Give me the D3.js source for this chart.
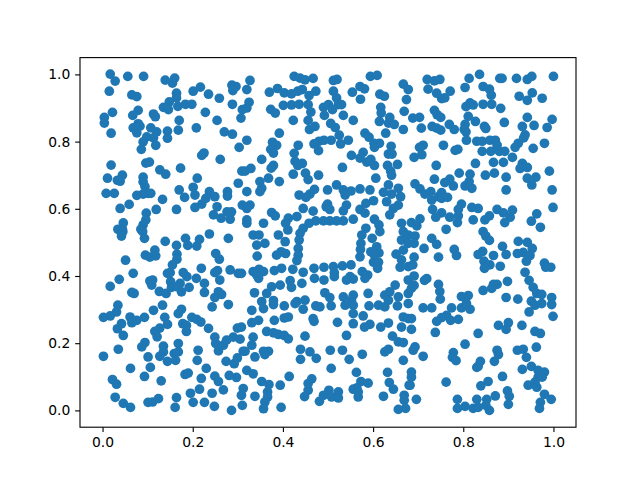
<!DOCTYPE html>
<html><head><meta charset="utf-8">
<script src="https://cdn.jsdelivr.net/npm/d3@7/dist/d3.min.js"></script>
<style>html,body{margin:0;padding:0;background:#fff}svg{display:block}</style>
</head><body><svg id="c" width="640" height="480"></svg>
<script>
const tickValues = [0, 0.2, 0.4, 0.6, 0.8, 1.0];
const topLeft = [[.017,1.001],[.028,.98],[.056,.994],[.091,.994],[.139,.983],[.16,.989],[.155,.974],[.015,.95],[.065,.939],[.076,.934],[.201,.95],[.217,.962],[.235,.941],[.259,.929],[.287,.968],[.296,.964],[.289,.952],[.164,.944],[.164,.93],[.148,.918],[.135,.902],[.146,.895],[.167,.905],[.184,.911],[.198,.911],[.288,.911],[.022,.887],[.079,.893],[.067,.878],[.113,.882],[.117,.874],[.228,.887],[.004,.872],[.004,.855],[.17,.863],[.254,.863],[.307,.87],[.31,.895],[.079,.853],[.068,.841],[.083,.846],[.076,.826],[.107,.841],[.12,.829],[.144,.831],[.168,.834],[.208,.841],[.019,.825],[.27,.829],[.288,.822],[.098,.814],[.09,.799],[.086,.777],[.113,.811],[.118,.789],[.144,.81],[.303,.783],[.225,.766],[.22,.759],[.261,.747],[.019,.73],[.096,.736],[.104,.739],[.127,.716],[.14,.703],[.173,.721],[.21,.691],[.011,.691],[.044,.7],[.033,.685],[.039,.682],[.09,.694],[.09,.68],[.309,.712]];
const topMiddle = [[.327,.982],[.32,.955],[.325,.917],[.32,.9],[.425,.994],[.438,.989],[.449,.984],[.467,.988],[.512,.982],[.52,.985],[.594,.994],[.609,.997],[.667,.971],[.678,.955],[.674,.925],[.37,.947],[.388,.958],[.403,.945],[.419,.942],[.433,.95],[.443,.955],[.473,.95],[.458,.937],[.512,.95],[.554,.947],[.571,.964],[.581,.957],[.615,.941],[.625,.935],[.572,.926],[.401,.908],[.419,.909],[.436,.911],[.456,.91],[.462,.888],[.49,.902],[.501,.91],[.519,.93],[.523,.91],[.51,.895],[.53,.91],[.492,.878],[.534,.878],[.373,.896],[.383,.885],[.423,.863],[.456,.863],[.556,.863],[.617,.902],[.618,.885],[.669,.89],[.614,.86],[.637,.872],[.634,.855],[.647,.851],[.667,.836],[.628,.825],[.506,.854],[.516,.842],[.459,.836],[.471,.845],[.525,.819],[.545,.804],[.528,.793],[.507,.804],[.491,.804],[.48,.801],[.469,.793],[.479,.773],[.392,.825],[.32,.804],[.377,.798],[.386,.789],[.373,.777],[.379,.766],[.434,.789],[.425,.765],[.353,.747],[.582,.825],[.591,.813],[.602,.795],[.614,.795],[.603,.783],[.64,.786],[.634,.763],[.642,.763],[.578,.768],[.552,.759],[.571,.751],[.595,.747],[.586,.739],[.603,.729],[.654,.732],[.632,.729],[.639,.712],[.641,.7],[.427,.741],[.443,.735],[.433,.729],[.379,.729],[.374,.721],[.329,.72],[.316,.712],[.532,.723],[.423,.703],[.45,.706],[.456,.687],[.479,.7],[.368,.691],[.606,.691]];
const topRight = [[.72,.985],[.736,.981],[.748,.985],[.722,.956],[.741,.944],[.752,.928],[.759,.93],[.771,.95],[.813,.988],[.836,1.0],[.804,.961],[.844,.964],[.858,.956],[.862,.938],[.863,.911],[.844,.911],[.881,.988],[.886,.988],[.918,.988],[.942,.985],[.952,.994],[1.0,.994],[.924,.935],[.953,.945],[.942,.923],[.975,.929],[.815,.915],[.806,.904],[.822,.909],[.883,.899],[.736,.893],[.742,.88],[.75,.872],[.688,.87],[.703,.872],[.707,.84],[.731,.845],[.741,.84],[.75,.834],[.769,.851],[.78,.836],[.811,.875],[.827,.86],[.804,.851],[.802,.836],[.806,.829],[.847,.845],[.85,.839],[.891,.857],[.942,.872],[.997,.866],[.957,.848],[.931,.845],[.986,.842],[.937,.82],[.934,.811],[.922,.795],[.915,.783],[.807,.804],[.83,.801],[.842,.801],[.842,.771],[.859,.804],[.871,.804],[.861,.771],[.88,.771],[.875,.789],[.892,.771],[.909,.753],[.98,.795],[.955,.78],[.756,.789],[.711,.789],[.703,.783],[.708,.761],[.691,.753],[.782,.774],[.788,.777],[.827,.735],[.867,.738],[.889,.738],[.931,.735],[.926,.72],[.942,.723],[.991,.712],[.74,.729],[.791,.706],[.815,.703],[.849,.7],[.869,.706],[.895,.694],[.942,.691],[.961,.694],[.736,.688],[.77,.688]];
const midLeft = [[.094,.666],[.101,.646],[.09,.644],[.076,.64],[.107,.646],[.008,.646],[.026,.646],[.059,.613],[.039,.601],[.133,.628],[.119,.598],[.164,.598],[.097,.587],[.096,.567],[.09,.552],[.085,.539],[.089,.532],[.046,.558],[.034,.539],[.044,.539],[.045,.532],[.042,.519],[.093,.512],[.17,.656],[.182,.634],[.201,.664],[.205,.641],[.205,.604],[.22,.614],[.237,.651],[.229,.631],[.249,.636],[.254,.606],[.246,.582],[.263,.572],[.283,.569],[.276,.591],[.286,.591],[.277,.651],[.277,.638],[.31,.611],[.301,.676],[.237,.525],[.279,.512],[.139,.503],[.184,.512],[.189,.491],[.209,.489],[.215,.509],[.164,.491],[.165,.465],[.165,.45],[.116,.477],[.095,.462],[.105,.456],[.118,.46],[.155,.433],[.15,.41],[.144,.408],[.051,.447],[.251,.467],[.259,.45],[.219,.423],[.255,.416],[.249,.41],[.283,.418],[.301,.408],[.308,.408],[.068,.408],[.037,.39],[.017,.369],[.105,.385],[.111,.388],[.109,.373],[.126,.354],[.141,.348],[.151,.383],[.153,.366],[.179,.41],[.187,.398],[.172,.378],[.192,.366],[.175,.353],[.165,.368],[.208,.393],[.226,.378],[.226,.351],[.26,.388],[.257,.353],[.264,.345],[.249,.336],[.065,.351],[.07,.348]];
const midMiddle = [[.349,.681],[.353,.661],[.349,.651],[.392,.681],[.32,.651],[.519,.671],[.534,.656],[.538,.641],[.551,.653],[.571,.659],[.593,.656],[.499,.656],[.47,.658],[.46,.644],[.436,.641],[.451,.634],[.634,.671],[.656,.661],[.623,.649],[.641,.644],[.661,.636],[.63,.621],[.656,.611],[.645,.601],[.637,.582],[.601,.624],[.584,.616],[.571,.598],[.582,.587],[.499,.614],[.496,.606],[.504,.598],[.541,.611],[.534,.594],[.327,.611],[.32,.601],[.445,.601],[.467,.593],[.375,.589],[.383,.579],[.431,.577],[.412,.572],[.406,.557],[.411,.537],[.32,.567],[.32,.557],[.357,.557],[.556,.569],[.534,.564],[.519,.564],[.504,.564],[.49,.564],[.473,.564],[.458,.557],[.445,.542],[.438,.527],[.436,.507],[.434,.482],[.434,.462],[.431,.446],[.603,.569],[.613,.552],[.615,.532],[.584,.542],[.575,.522],[.573,.497],[.572,.479],[.571,.457],[.551,.433],[.598,.512],[.595,.472],[.608,.487],[.613,.469],[.603,.462],[.39,.522],[.405,.502],[.396,.472],[.406,.467],[.386,.462],[.334,.522],[.347,.522],[.342,.492],[.36,.497],[.343,.459],[.663,.557],[.667,.532],[.678,.522],[.663,.507],[.678,.497],[.667,.477],[.651,.465],[.601,.441],[.612,.441],[.61,.423],[.663,.448],[.678,.428],[.66,.426],[.678,.388],[.469,.423],[.491,.426],[.512,.428],[.532,.43],[.47,.393],[.491,.388],[.514,.398],[.445,.411],[.422,.42],[.397,.423],[.381,.416],[.347,.42],[.334,.413],[.357,.413],[.346,.393],[.342,.403],[.549,.398],[.556,.391],[.541,.388],[.576,.413],[.588,.403],[.582,.393],[.514,.41],[.649,.373],[.637,.353],[.589,.348],[.626,.343],[.634,.328],[.656,.338],[.678,.348],[.493,.35],[.504,.336],[.534,.338],[.556,.343],[.552,.328],[.449,.328],[.431,.324],[.379,.327],[.353,.324],[.364,.348],[.375,.368],[.394,.373],[.416,.386],[.419,.366],[.442,.378],[.337,.35]];
const midRight = [[.693,.674],[.704,.659],[.715,.644],[.728,.651],[.73,.626],[.745,.636],[.752,.648],[.752,.631],[.765,.634],[.778,.668],[.759,.678],[.804,.668],[.819,.661],[.813,.681],[.895,.656],[.952,.671],[.997,.656],[.999,.604],[.732,.598],[.752,.588],[.739,.575],[.77,.575],[.789,.579],[.787,.559],[.796,.614],[.789,.598],[.819,.604],[.833,.601],[.822,.567],[.875,.598],[.889,.588],[.909,.596],[.904,.575],[.892,.559],[.848,.567],[.858,.579],[.963,.585],[.951,.563],[.971,.545],[.704,.57],[.697,.549],[.685,.559],[.762,.539],[.844,.532],[.85,.519],[.858,.506],[.693,.519],[.691,.497],[.73,.512],[.741,.494],[.713,.482],[.78,.479],[.785,.461],[.745,.456],[.691,.456],[.688,.433],[.922,.503],[.942,.5],[.953,.482],[.887,.488],[.843,.473],[.833,.464],[.867,.461],[.895,.464],[.92,.467],[.933,.47],[.948,.461],[.94,.444],[.846,.444],[.859,.433],[.847,.423],[.882,.429],[.98,.438],[.983,.426],[.994,.426],[.937,.411],[.691,.4],[.719,.392],[.714,.387],[.946,.387],[.898,.384],[.691,.372],[.745,.375],[.748,.354],[.685,.363],[.955,.366],[.867,.375],[.875,.375],[.863,.363],[.844,.357],[.963,.348],[.974,.345],[.996,.336],[.796,.339],[.811,.342],[.895,.336],[.921,.331],[.749,.331],[.951,.325]];
const lowLeft = [[.034,.313],[.031,.293],[.017,.281],[.002,.277],[.113,.298],[.133,.313],[.175,.301],[.168,.288],[.061,.278],[.065,.261],[.076,.268],[.093,.277],[.042,.258],[.033,.243],[.046,.223],[.138,.277],[.144,.256],[.127,.245],[.116,.235],[.121,.219],[.178,.258],[.186,.253],[.186,.235],[.198,.277],[.209,.271],[.218,.263],[.235,.244],[.243,.308],[.279,.315],[.299,.245],[.308,.248],[.249,.218],[.251,.199],[.257,.177],[.268,.194],[.275,.209],[.29,.218],[.305,.212],[.094,.202],[.087,.189],[.035,.182],[.002,.161],[.135,.191],[.135,.174],[.127,.161],[.168,.199],[.168,.174],[.159,.169],[.144,.146],[.162,.149],[.101,.159],[.106,.128],[.212,.179],[.21,.149],[.23,.125],[.312,.176],[.299,.156],[.292,.139],[.274,.146],[.062,.125],[.093,.101],[.13,.088],[.022,.092],[.031,.078],[.183,.107],[.19,.111],[.219,.095],[.249,.102],[.257,.086],[.268,.061],[.281,.104],[.297,.098],[.195,.051],[.215,.063],[.243,.051],[.312,.065],[.308,.045],[.028,.039],[.046,.021],[.062,.009],[.101,.024],[.111,.025],[.124,.035],[.164,.038],[.161,.009],[.201,.024],[.226,.024],[.248,.012],[.286,0],[.31,.015]];
const lowMiddle = [[.331,.298],[.357,.303],[.346,.268],[.331,.261],[.379,.315],[.403,.311],[.427,.318],[.445,.301],[.473,.311],[.482,.308],[.507,.311],[.538,.313],[.556,.313],[.556,.288],[.556,.258],[.578,.281],[.593,.256],[.581,.248],[.591,.311],[.612,.313],[.626,.308],[.617,.248],[.634,.26],[.654,.311],[.678,.318],[.667,.278],[.678,.273],[.663,.248],[.381,.268],[.403,.275],[.412,.278],[.467,.273],[.469,.265],[.521,.262],[.364,.235],[.379,.231],[.39,.226],[.403,.223],[.412,.213],[.449,.221],[.541,.223],[.643,.221],[.656,.204],[.667,.202],[.334,.218],[.331,.194],[.316,.176],[.357,.176],[.368,.176],[.36,.166],[.338,.159],[.439,.182],[.439,.152],[.46,.174],[.474,.155],[.505,.179],[.532,.179],[.547,.152],[.576,.167],[.634,.182],[.626,.174],[.667,.149],[.32,.119],[.334,.109],[.414,.101],[.507,.125],[.563,.113],[.632,.113],[.68,.075],[.636,.083],[.645,.063],[.353,.086],[.369,.077],[.394,.075],[.464,.094],[.456,.08],[.456,.06],[.448,.041],[.481,.027],[.49,.045],[.502,.06],[.508,.04],[.523,.055],[.523,.037],[.573,.086],[.589,.081],[.564,.067],[.556,.063],[.567,.04],[.567,.055],[.623,.042],[.669,.045],[.669,.03],[.656,.003],[.672,.006],[.366,.055],[.366,.04],[.36,.025],[.357,.005],[.338,.042],[.396,.009]];
const lowRight = [[.711,.305],[.73,.305],[.774,.305],[.763,.283],[.752,.276],[.741,.265],[.772,.268],[.789,.271],[.796,.305],[.815,.301],[.807,.318],[.946,.293],[.959,.313],[.974,.318],[.996,.315],[.999,.28],[.685,.273],[.685,.241],[.738,.232],[.833,.229],[.878,.253],[.9,.261],[.895,.241],[.93,.253],[.959,.235],[.971,.229],[.693,.189],[.689,.179],[.711,.161],[.804,.197],[.778,.172],[.776,.158],[.784,.148],[.875,.179],[.878,.166],[.869,.146],[.92,.179],[.933,.182],[.94,.158],[.962,.188],[.838,.146],[.833,.131],[.83,.128],[.951,.131],[.931,.122],[.966,.119],[.98,.114],[.966,.099],[.975,.099],[.959,.084],[.944,.075],[.963,.069],[.685,.114],[.685,.099],[.682,.075],[.762,.084],[.887,.101],[.855,.086],[.839,.073],[.898,.058],[.902,.042],[.9,.018],[.871,.043],[.852,.033],[.83,.033],[.787,.033],[.804,.012],[.787,.006],[.822,.006],[.833,.009],[.858,0],[.85,.015],[.98,.048],[.995,.033],[.971,.024],[.969,.006],[.696,.033]];
const allPoints = [topLeft, topMiddle, topRight, midLeft, midMiddle, midRight, lowLeft, lowMiddle, lowRight].flat();

const W = 640, H = 480;
const frame = {left: 80, right: 576, top: 57.6, bottom: 427.2};
const pad = (frame.right - frame.left) / 22, padY = (frame.bottom - frame.top) / 22;
const x = d3.scaleLinear().domain([0, 1]).range([frame.left + pad, frame.right - pad]);
const y = d3.scaleLinear().domain([0, 1]).range([frame.bottom - padY, frame.top + padY]);
const svg = d3.select('#c');
svg.append('g').selectAll('circle').data(allPoints).join('circle')
  .attr('cx', d => x(d[0])).attr('cy', d => y(d[1])).attr('r', 4.86).attr('fill', '#1f77b4');
svg.append('rect').attr('x', frame.left).attr('y', frame.top)
  .attr('width', frame.right - frame.left).attr('height', frame.bottom - frame.top)
  .attr('fill', 'none').attr('stroke', '#000').attr('stroke-width', 1.11);
const fmt = d3.format('.1f');
const ax = svg.append('g').attr('transform', `translate(0,${frame.bottom})`)
  .call(d3.axisBottom(x).tickValues(tickValues).tickFormat(fmt).tickSize(4.86).tickPadding(4.8));
const ay = svg.append('g').attr('transform', `translate(${frame.left},0)`)
  .call(d3.axisLeft(y).tickValues(tickValues).tickFormat(fmt).tickSize(4.86).tickPadding(4.8));
[ax, ay].forEach(a => {
  a.select('.domain').remove();
  a.selectAll('line').attr('stroke', '#000').attr('stroke-width', 1.11);
  a.selectAll('text').attr('fill', '#000').style('font-family', '"DejaVu Sans"').style('font-size', '13.89px');
});
</script></body></html>
